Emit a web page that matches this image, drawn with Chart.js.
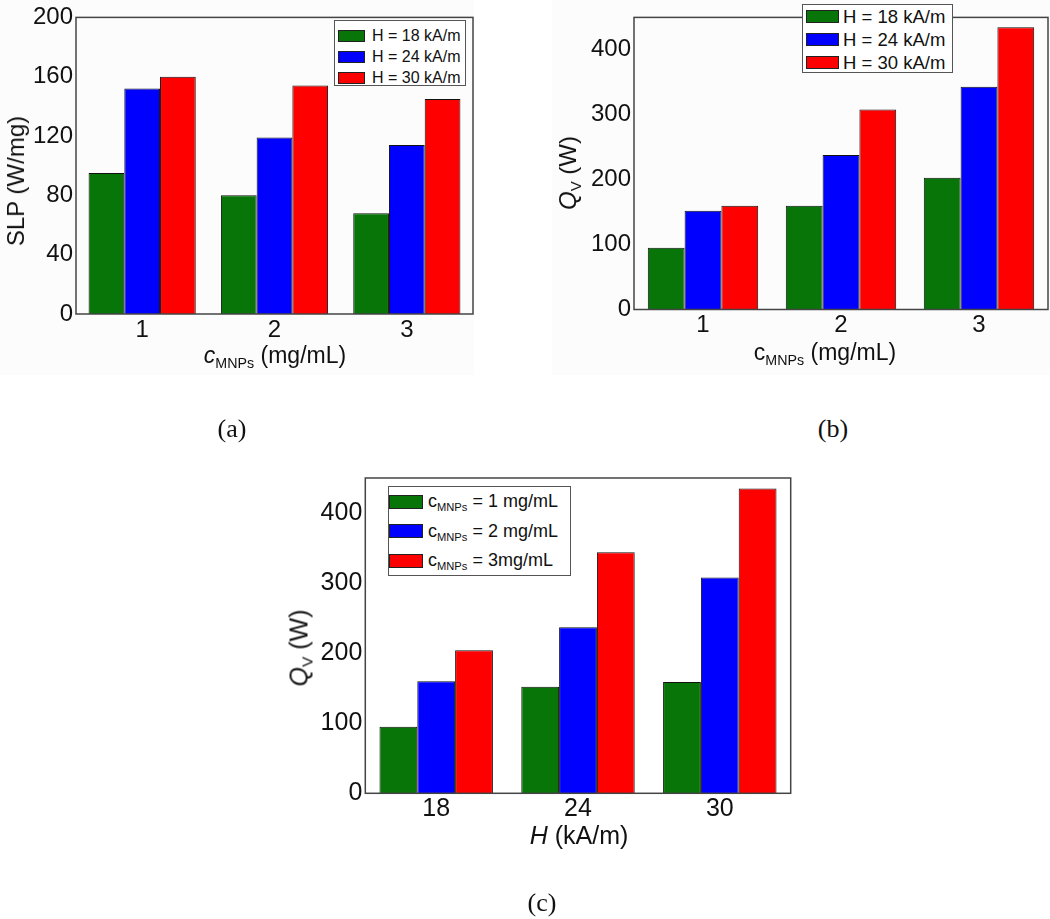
<!DOCTYPE html>
<html>
<head>
<meta charset="utf-8">
<script src="https://cdn.jsdelivr.net/npm/chart.js@4.4.1/dist/chart.umd.min.js"></script>
<style>
body { margin: 0; background: #fff; font-family: "Liberation Sans", Arial, sans-serif; }
#page { position: relative; width: 1050px; height: 919px; overflow: hidden; }
.panel-bg { position: absolute; background: #fcfcfc; }
.box { position: absolute; }
.lbl { position: absolute; white-space: nowrap; transform: translate(-50%, -50%); color: #111; }
.rot { transform: translate(-50%, -50%) rotate(-90deg); }
.sub { font-size: 0.62em; position: relative; top: 0.35em; }
.cap { font-family: "Liberation Serif", "Times New Roman", serif; font-size: 26px; }
.legend { position: absolute; border: 1px solid #555; background: #fff; box-sizing: border-box; color: #111; }
.legend .row { display: flex; align-items: center; white-space: nowrap; }
.legend .sw { box-sizing: border-box; border: 1px solid #222; flex: none; }
</style>
</head>
<body>
<div id="page">
  <div class="panel-bg" style="left:0;top:0;width:474px;height:375px"></div>
  <div class="panel-bg" style="left:552px;top:0;width:498px;height:375px"></div>

  <div class="box" style="left:0;top:0"><canvas id="chartA" width="480" height="350"></canvas></div>
  <div class="box" style="left:540px;top:0"><canvas id="chartB" width="510" height="345"></canvas></div>
  <div class="box" style="left:290px;top:460px"><canvas id="chartC" width="510" height="380"></canvas></div>

  <!-- axis titles -->
  <div class="lbl rot" style="left:16px;top:181px;font-size:24px">SLP (W/mg)</div>
  <div class="lbl" style="left:275px;top:355px;font-size:23px"><i>c</i><span class="sub">MNPs</span> (mg/mL)</div>
  <div class="lbl rot" style="left:568px;top:173px;font-size:24px"><i>Q</i><span class="sub">V</span> (W)</div>
  <div class="lbl" style="left:825px;top:352px;font-size:23px">c<span class="sub">MNPs</span> (mg/mL)</div>
  <div class="lbl rot" style="left:299px;top:648px;font-size:25px"><i>Q</i><span class="sub">V</span> (W)</div>
  <div class="lbl" style="left:579px;top:835px;font-size:25px"><i>H</i> (kA/m)</div>

  <!-- captions -->
  <div class="lbl cap" style="left:232px;top:429px">(a)</div>
  <div class="lbl cap" style="left:833px;top:429px">(b)</div>
  <div class="lbl cap" style="left:542px;top:903px">(c)</div>

  <div id="legendA" class="legend" style="left:334px;top:20px;width:132px;height:66px;font-size:16px"></div>
  <div id="legendB" class="legend" style="left:802px;top:4px;width:151px;height:69px;font-size:18.5px"></div>
  <div id="legendC" class="legend" style="left:388px;top:486px;width:183px;height:90px;font-size:18px"></div>
</div>

<script>
// categories
const concCats = ['1', '2', '3'];
const fieldCats = ['18', '24', '30'];

// (a) SLP (W/mg) per field strength
const slp18 = [95, 80, 68];
const slp24 = [152, 119, 114];
const slp30 = [160, 154, 145];

// (b) Qv (W) per field strength, vs concentration
const qv18 = [95, 160, 203];
const qv24 = [152, 238, 343];
const qv30 = [160, 308, 435];

// (c) Qv (W) per concentration, vs field strength
const qvC1 = [95, 152, 159];
const qvC2 = [160, 237, 308];
const qvC3 = [204, 344, 435];

// legend labels
const fieldLabels = ['H = 18 kA/m', 'H = 24 kA/m', 'H = 30 kA/m'];
const concLabels = ['1 mg/mL', '2 mg/mL', '3mg/mL'];

const colors = ['#077507', '#0000ff', '#ff0000'];

const framePlugin = {
    id: 'frame',
    afterDatasetsDraw(chart) {
        const a = chart.chartArea;
        const ctx = chart.ctx;
        ctx.save();
        ctx.strokeStyle = '#444';
        ctx.lineWidth = 1.5;
        ctx.strokeRect(a.left, a.top, a.right - a.left, a.bottom - a.top);
        ctx.restore();
    }
};

function createChart(id, cats, series, labels, opt) {
    const ctx = document.getElementById(id).getContext('2d');
    return new Chart(ctx, {
        type: 'bar',
        data: {
            labels: cats,
            datasets: series.map((s, i) => ({
                label: labels[i],
                data: s,
                backgroundColor: colors[i],
                borderColor: '#111',
                borderWidth: 1,
                barPercentage: 1,
                categoryPercentage: opt.catPct
            }))
        },
        options: {
            responsive: false,
            animation: false,
            layout: { padding: { top: opt.padTop, right: opt.padRight, left: 0, bottom: 0 } },
            plugins: { legend: { display: false }, tooltip: { enabled: false } },
            scales: {
                x: {
                    grid: { display: false, drawTicks: false },
                    border: { display: false },
                    ticks: { color: '#111', padding: opt.xPad, font: { family: 'Liberation Sans', size: opt.font } },
                    afterFit: s => { s.height = opt.xH; }
                },
                y: {
                    min: 0,
                    max: opt.yMax,
                    grid: { display: false, drawTicks: false },
                    border: { display: false },
                    ticks: { stepSize: opt.step, color: '#111', padding: 3, font: { family: 'Liberation Sans', size: opt.font } },
                    afterBuildTicks: s => { s.ticks = s.ticks.filter(t => t.value % opt.step === 0); },
                    afterFit: s => { s.width = opt.yW; }
                }
            }
        },
        plugins: [framePlugin]
    });
}

function buildLegend(elId, chart, texts, opt) {
    const el = document.getElementById(elId);
    el.style.paddingTop = opt.padTop + 'px';
    chart.data.datasets.forEach((ds, i) => {
        const row = document.createElement('div');
        row.className = 'row';
        row.style.height = opt.rowH + 'px';
        row.style.paddingLeft = opt.padLeft + 'px';
        const sw = document.createElement('div');
        sw.className = 'sw';
        sw.style.width = opt.swW + 'px';
        sw.style.height = opt.swH + 'px';
        sw.style.background = ds.backgroundColor;
        sw.style.marginRight = opt.gap + 'px';
        const txt = document.createElement('span');
        txt.innerHTML = texts[i];
        row.appendChild(sw);
        row.appendChild(txt);
        el.appendChild(row);
    });
}

const chartA = createChart('chartA', concCats, [slp18, slp24, slp30], fieldLabels,
    { catPct: 0.81, padTop: 17, padRight: 7, yW: 76, xH: 36, yMax: 200, step: 40, font: 24, xPad: 2 });
const chartB = createChart('chartB', concCats, [qv18, qv24, qv30], fieldLabels,
    { catPct: 0.80, padTop: 1, padRight: 2, yW: 94, xH: 35.5, yMax: 450, step: 100, font: 24, xPad: 1 });
const chartC = createChart('chartC', fieldCats, [qvC1, qvC2, qvC3], concLabels.map(l => 'cMNPs = ' + l),
    { catPct: 0.80, padTop: 16.7, padRight: 9.3, yW: 75.3, xH: 46.7, yMax: 450, step: 100, font: 25, xPad: 1 });

buildLegend('legendA', chartA, fieldLabels, { padTop: 5, rowH: 20.7, padLeft: 3, swW: 27, swH: 12, gap: 7 });
buildLegend('legendB', chartB, fieldLabels, { padTop: 0, rowH: 23, padLeft: 3, swW: 33, swH: 13, gap: 4 });
buildLegend('legendC', chartC, concLabels.map(l => 'c<span class="sub">MNPs</span> = ' + l),
    { padTop: 0, rowH: 29.5, padLeft: 0, swW: 34, swH: 14, gap: 5 });
</script>
</body>
</html>
